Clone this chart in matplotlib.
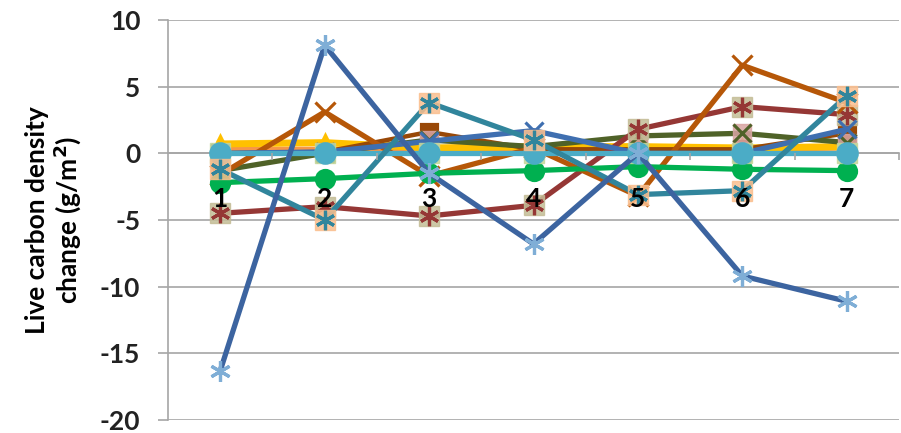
import matplotlib
matplotlib.use("Agg")
import matplotlib.pyplot as plt

# category positions 1..7
CATEGORIES = ["1", "2", "3", "4", "5", "6", "7"]

# series values (g/m2)
S_BLUE_STAR = [-16.3, 8.1, -1.5, -6.8, 0.0, -9.2, -11.1]
S_TEAL_STAR = [-1.2, -5.0, 3.8, 1.0, -3.1, -2.8, 4.3]
S_BROWN_X = [-1.6, 3.1, -1.7, 0.4, -3.2, 6.6, 3.8]
S_RED_STAR = [-4.5, -4.0, -4.7, -3.9, 1.8, 3.5, 2.9]
S_OLIVE_X = [-1.3, 0.0, 1.0, 0.5, 1.3, 1.5, 0.8]
S_GREEN_DOT = [-2.2, -1.9, -1.5, -1.3, -1.0, -1.2, -1.3]
S_YELLOW_TRI = [0.7, 0.8, 0.4, 0.5, 0.5, 0.4, 0.5]
S_ORANGE = [0.3, 0.3, 0.3, 0.2, 0.2, 0.3, 0.4]
S_BLUE_X = [0.0, 0.1, 0.9, 1.7, 0.0, 0.0, 1.8]
S_DKBROWN_SQ = [0.0, 0.1, 1.6, 0.3, 0.3, 0.3, 1.5]
S_LTBLUE_DOT = [0.0, 0.0, 0.0, 0.0, 0.0, 0.0, 0.0]

Y_TICKS = [-20, -15, -10, -5, 0, 5, 10]

FONT = "Lato"
FS = 19
ASTERISK = (6, 2, 0)

plt.rcParams.update({"font.family": FONT, "font.weight": "bold"})

fig = plt.figure(figsize=(9.01, 4.33), dpi=100)
ax = fig.add_axes([0.1865, 0.030, 0.8113, 0.924])

x = list(range(1, len(CATEGORIES) + 1))


def series(vals, color, marker=None, mcolor=None, back=None, ms=12, lw=3.8, z=2):
    ax.plot(x, vals, color=color, lw=lw, zorder=z, solid_joinstyle="round")
    if back is not None:
        ax.plot(x, vals, ls="none", marker="s", ms=ms, color=back,
                alpha=0.85, zorder=z + 0.1)
    if marker is not None:
        mc = mcolor or color
        ax.plot(x, vals, ls="none", marker=marker, ms=ms, mfc=mc, mec=mc,
                mew=2.3, zorder=z + 0.2)


series(S_ORANGE, "#F79646", z=2)
series(S_YELLOW_TRI, "#FFC000", marker="^", ms=12, lw=5, z=2.5)
series(S_DKBROWN_SQ, "#984807", marker="s", ms=12, lw=3.2, z=3)
series(S_OLIVE_X, "#4F6228", marker="x", back="#D9A5A3", ms=13, z=3.5)
series(S_RED_STAR, "#953735", marker=ASTERISK, back="#C4BD97", ms=14, z=4)
series(S_BROWN_X, "#B65708", marker="x", ms=15, z=4.5)
series(S_GREEN_DOT, "#00B050", marker="o", ms=13, z=5)
series(S_BLUE_X, "#3F6FB0", marker="x", ms=13, z=5.5)
series(S_LTBLUE_DOT, "#4BACC6", marker="o", back="#C4D79B", ms=14, z=6)
series(S_TEAL_STAR, "#31859C", marker=ASTERISK, back="#FABF8F", ms=14, z=6.5)
series(S_BLUE_STAR, "#3C64A0", marker=ASTERISK, mcolor="#7FAED6", ms=15, z=7)

ax.set_xlim(0.5, len(CATEGORIES) + 0.5)
ax.set_ylim(Y_TICKS[0], Y_TICKS[-1])
ax.set_yticks(Y_TICKS)
ax.set_yticklabels([str(t) for t in Y_TICKS])
ax.grid(axis="y", color="#A6A6A6", lw=1.2, zorder=0)

for side in ("top", "right"):
    ax.spines[side].set_visible(False)
ax.spines["left"].set_color("#A6A6A6")
ax.spines["left"].set_linewidth(1.2)
ax.spines["bottom"].set_position(("data", 0))
ax.spines["bottom"].set_color("#A6A6A6")
ax.spines["bottom"].set_linewidth(1.2)
ax.spines["bottom"].set_zorder(1)

ax.set_xticks(x)
ax.set_xticklabels(CATEGORIES)
ax.set_xticks([i + 0.5 for i in x], minor=True)
ax.tick_params(axis="x", which="major", length=0, pad=24, labelsize=FS,
               labelcolor="black")
ax.tick_params(axis="x", which="minor", length=5, color="#A6A6A6", width=1.2)
ax.tick_params(axis="y", length=7, color="#A6A6A6", width=1.2, labelsize=FS,
               pad=13, labelcolor="#222222")
ax.xaxis.set_zorder(20)
for lab in ax.get_xticklabels() + ax.get_yticklabels():
    lab.set_fontweight("bold")

ax.set_ylabel("Live carbon density\nchange (g/m$^\\mathbf{2}$)", fontsize=FS,
              fontweight="bold", labelpad=12, linespacing=1.1)

fig.savefig("out.png", dpi=100)
